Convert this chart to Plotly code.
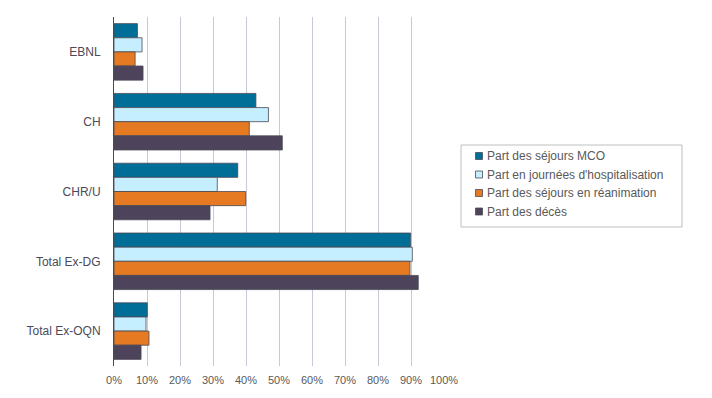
import plotly.graph_objects as go

categories = ["EBNL", "CH", "CHR/U", "Total Ex-DG", "Total Ex-OQN"]
series_names = [
    "Part des séjours MCO",
    "Part en journées d'hospitalisation",
    "Part des séjours en réanimation",
    "Part des décès",
]
sejours_mco = [0.071, 0.430, 0.375, 0.899, 0.101]
journees_hosp = [0.085, 0.468, 0.313, 0.904, 0.097]
sejours_rea = [0.064, 0.410, 0.399, 0.897, 0.106]
deces = [0.088, 0.510, 0.291, 0.922, 0.082]
colors = ["#006E96", "#C5EEFF", "#E57A23", "#4D435A"]
x_ticks = [i / 10 for i in range(11)]

# page body has an 8px default margin: figure drawn from (8, 8)
OFF = 8
W, H = 712 - OFF, 398 - OFF
ML, MR, MT, MB = 114 - OFF, 268, 17 - OFF, 32
PW, PH = W - ML - MR, H - MT - MB


def px_x(p):
    return (p - OFF - ML) / PW


def px_y(p):
    return (H - MB - (p - OFF)) / PH


fig = go.Figure()
for name, vals, col in zip(series_names, [sejours_mco, journees_hosp, sejours_rea, deces], colors):
    fig.add_trace(go.Bar(
        y=categories, x=vals, name=name, orientation="h", showlegend=False,
        marker=dict(color=col, line=dict(color="#4a4a55", width=0.8)),
    ))

# custom legend (box, small swatches, labels)
shapes = [dict(type="rect", xref="paper", yref="paper",
               x0=px_x(461), x1=px_x(682), y0=px_y(227), y1=px_y(145),
               line=dict(color="#BFBFBF", width=1), fillcolor="white", layer="below")]
annotations = []
for i, (name, col) in enumerate(zip(series_names, colors)):
    cy = 156 + i * 18.5
    shapes.append(dict(type="rect", xref="paper", yref="paper",
                       x0=px_x(475.5), x1=px_x(482.5), y0=px_y(cy + 3.5), y1=px_y(cy - 3.5),
                       line=dict(color="#4a4a55", width=0.8), fillcolor=col))
    annotations.append(dict(xref="paper", yref="paper", x=px_x(485), y=px_y(cy),
                            xanchor="left", yanchor="middle", text=name, showarrow=False,
                            font=dict(size=12, color="#595959")))

fig.update_layout(
    width=W, height=H,
    barmode="group", bargap=0.19, bargroupgap=0,
    plot_bgcolor="white", paper_bgcolor="white",
    margin=dict(l=ML, r=MR, t=MT, b=MB),
    font=dict(family="Liberation Sans, Arial, sans-serif", size=11, color="#595959"),
    showlegend=False,
    shapes=shapes, annotations=annotations,
)
fig.update_xaxes(
    range=[0, 1.0], tickvals=x_ticks, tickformat=".0%",
    showgrid=True, gridcolor="#CBC7D6", gridwidth=1,
    zeroline=False, showline=False, ticks="", automargin=False,
    ticklabelstandoff=6,
    tickfont=dict(size=11, color="#595959"),
)
fig.update_yaxes(
    autorange="reversed", showline=True, linecolor="#4a4a55", linewidth=1,
    ticks="", showgrid=False, automargin=False, ticklabelstandoff=10,
    tickfont=dict(size=12, color="#4a4a5a"),
)
fig.write_html("out.html")
